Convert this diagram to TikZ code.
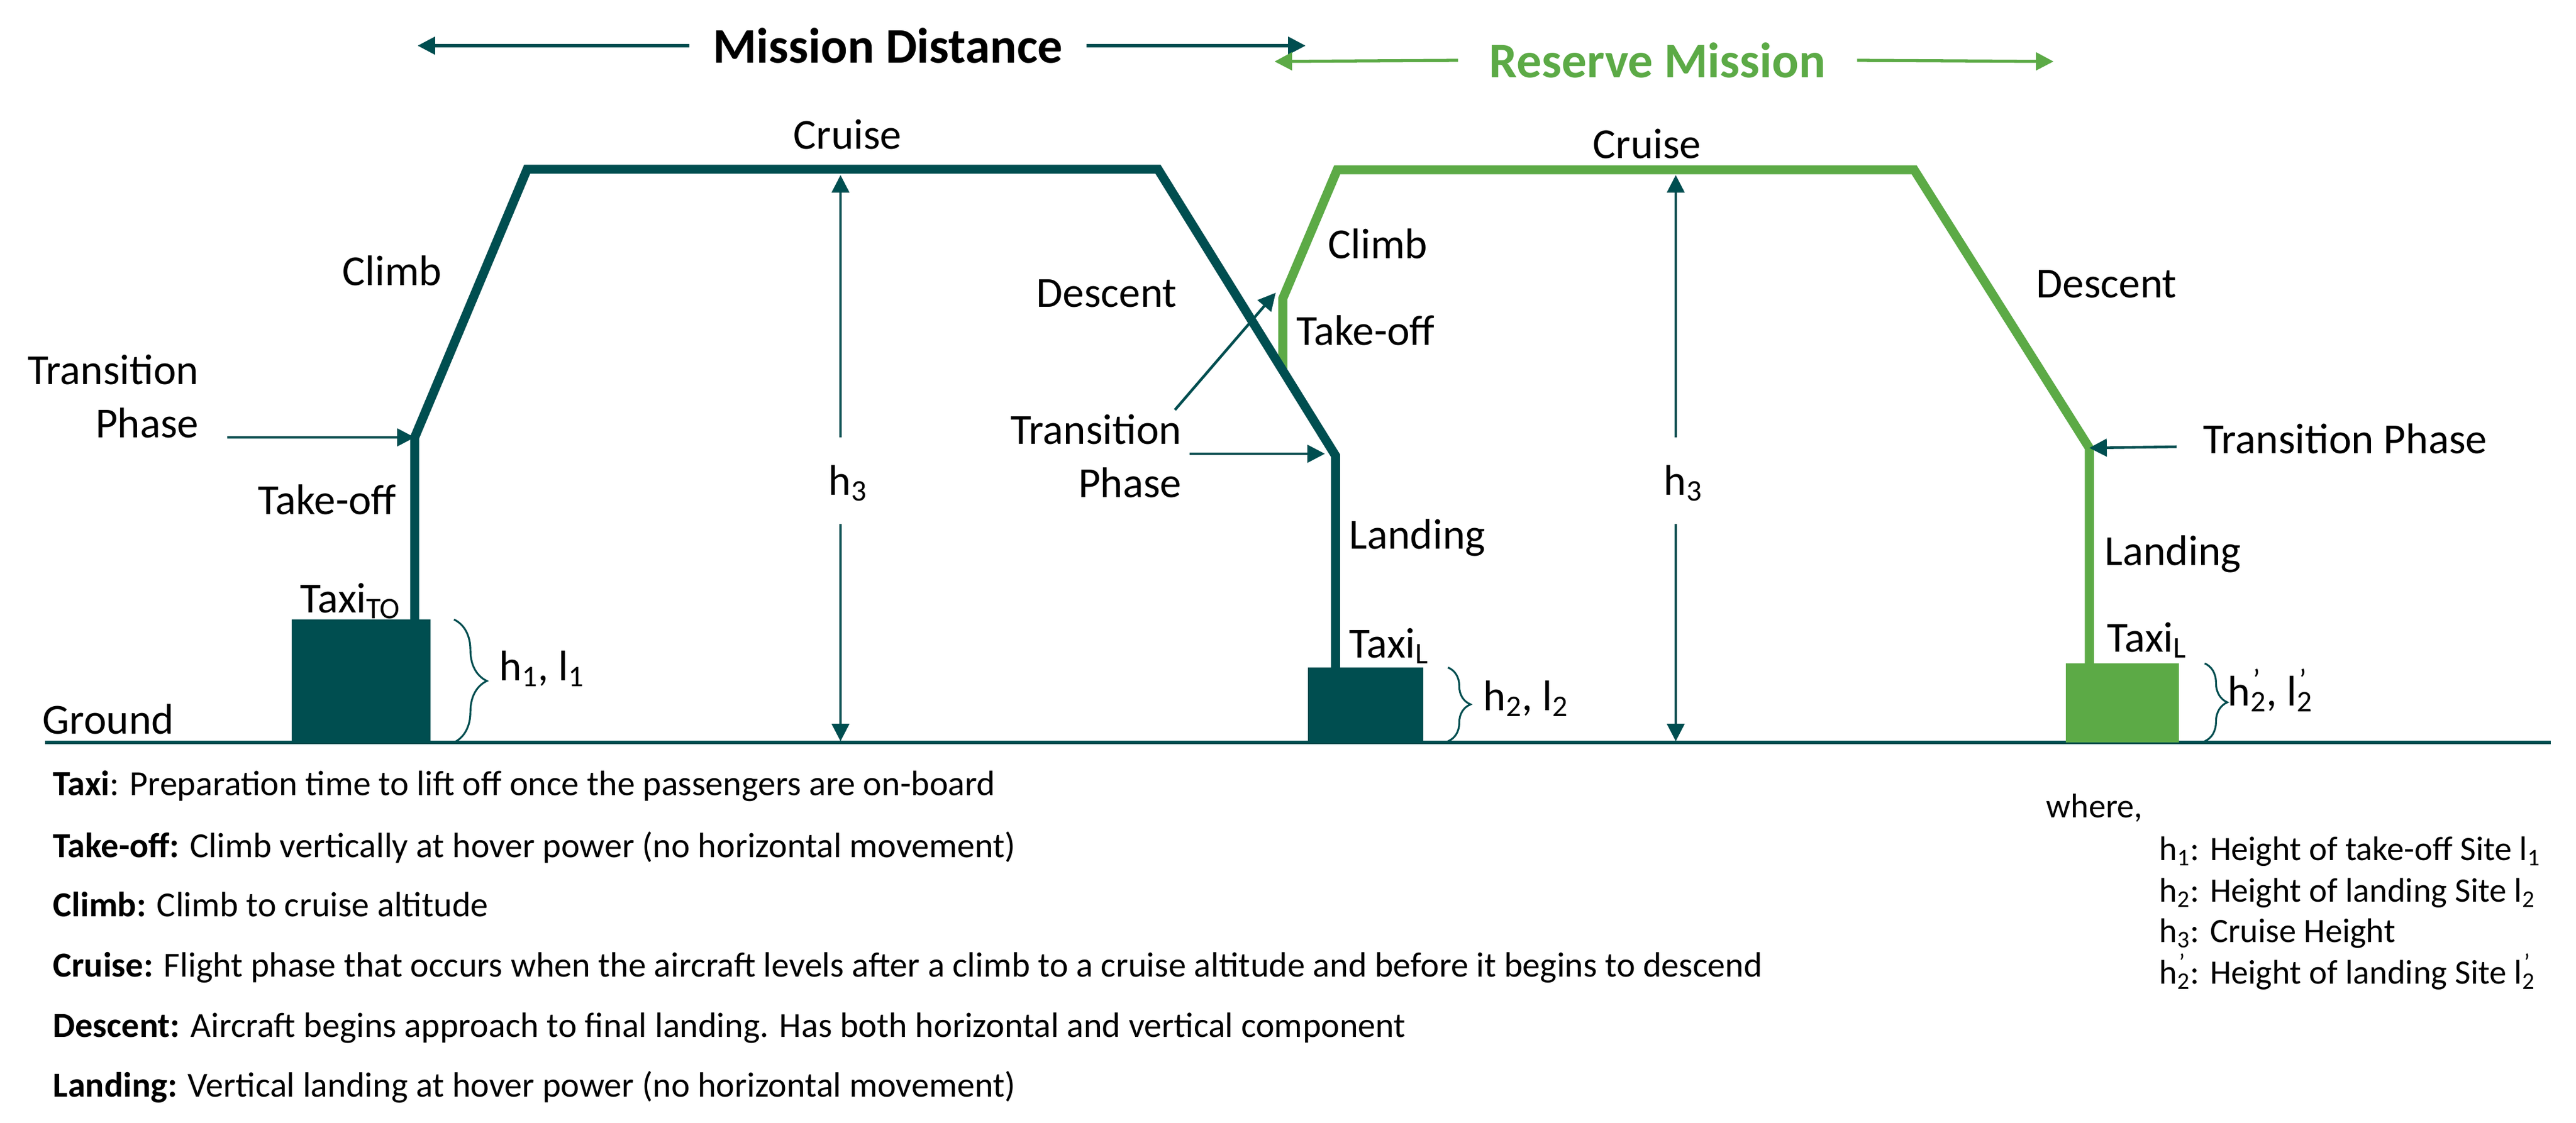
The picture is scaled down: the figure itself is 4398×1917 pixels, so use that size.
\documentclass[tikz,border=0pt]{standalone}
\usepackage{fontspec}
\setmainfont{Carlito}
\usetikzlibrary{arrows.meta,decorations.pathreplacing}
\definecolor{tealdk}{RGB}{0,78,80}
\definecolor{greenres}{RGB}{92,170,70}
\newcommand\titlefont{\fontsize{24.2}{29}\selectfont\bfseries}
\newcommand\labfont{\fontsize{20.8}{26}\selectfont}
\newcommand\descfont{\fontsize{17.1}{20}\selectfont}
\newcommand\legfont{\fontsize{16.6}{20}\selectfont}
\newcommand\hprime[1]{#1\rlap{\textsuperscript{\kern0.08em’}}\textsubscript{2}}
\tikzset{
  lab/.style={inner sep=0pt, font=\labfont, text=black},
  desc/.style={inner sep=0pt, font=\descfont, text=black, anchor=base west},
  leg/.style={inner sep=0pt, font=\legfont, text=black, anchor=base west},
  flight/.style={line width=4.4pt},
  tipped/.style={-{Triangle[length=8.5pt,width=8.5pt]}},
  topline/.style={tipped, line width=1.5pt},
  dimline/.style={tipped, tealdk, line width=1pt},
  transline/.style={tipped, tealdk, line width=1.3pt},
  bracedec/.style={tealdk, line width=0.9pt, decorate, decoration={brace, amplitude=#1}},
  titlenode/.style={inner ysep=0pt, font=\titlefont}
}
\begin{document}
\begin{tikzpicture}[x=0.01cm,y=-0.01cm]
\useasboundingbox (0,0) rectangle (4398,1917);

% ground line
\coordinate (gL) at (77,1268);
\coordinate (gR) at (4355,1268);
\draw[tealdk, line width=1.7pt] (gL) -- (gR);

% taxi boxes
\fill[tealdk] (498,1058) rectangle (735,1268);
\fill[tealdk] (2233,1140) rectangle (2430,1268);
\fill[greenres] (3527,1133) rectangle (3720,1268);

% reserve mission profile (green)
\coordinate (g1) at (3567,1133);
\coordinate (g2) at (3567,765);
\coordinate (g3) at (3268,290);
\coordinate (g4) at (2283,290);
\coordinate (g5) at (2190,510);
\coordinate (g6) at (2190,633);
\draw[flight, greenres] (g1) -- (g2) -- (g3) -- (g4) -- (g5) -- (g6);

% main mission profile (dark teal)
\coordinate (a1) at (708,1058);
\coordinate (a2) at (708,747);
\coordinate (a3) at (900,289);
\coordinate (a4) at (1977,289);
\coordinate (a5) at (2280,778);
\coordinate (a6) at (2280,1140);
\draw[flight, tealdk] (a1) -- (a2) -- (a3) -- (a4) -- (a5) -- (a6);

% titles with arrows
\node[titlenode, inner xsep=11.4pt, text=black] (md) at (1516,78) {Mission Distance};
\coordinate (mdL) at (713,78);
\coordinate (mdR) at (2229,78);
\draw[topline, tealdk] (md.west) -- (mdL);
\draw[topline, tealdk] (md.east) -- (mdR);

\node[titlenode, inner xsep=15pt, text=greenres] (rm) at (2830,103) {Reserve Mission};
\coordinate (rmL) at (2176,105);
\coordinate (rmR) at (3506,105);
\draw[topline, greenres] (rm.west) -- (rmL);
\draw[topline, greenres] (rm.east) -- (rmR);

% h3 dimension arrows
\node[lab, anchor=base west] (h3a) at (1414,845) {h\textsubscript{3}};
\coordinate (h3aT) at (1435,747);
\coordinate (h3aC) at (1435,299);
\coordinate (h3aB) at (1435,895);
\coordinate (h3aG) at (1435,1266);
\draw[dimline] (h3aT) -- (h3aC);
\draw[dimline] (h3aB) -- (h3aG);

\node[lab, anchor=base west] (h3b) at (2840,845) {h\textsubscript{3}};
\coordinate (h3bT) at (2861,747);
\coordinate (h3bC) at (2861,299);
\coordinate (h3bB) at (2861,895);
\coordinate (h3bG) at (2861,1266);
\draw[dimline] (h3bT) -- (h3bC);
\draw[dimline] (h3bB) -- (h3bG);

% transition phase labels and arrows
\node[lab, align=right, anchor=north east] (tp1) at (340,605) {Transition\\Phase};
\coordinate (tp1s) at (388,747);
\draw[transline] (tp1s) -- (a2);

\node[lab, align=right, anchor=north east] (tp2) at (2018,707) {Transition\\Phase};
\coordinate (tp2s) at (2031,775);
\coordinate (tp2e) at (2262,775);
\draw[transline] (tp2s) -- (tp2e);
\coordinate (tp2d) at (2006,700);
\coordinate (tp2u) at (2178,500);
\draw[transline] (tp2d) -- (tp2u);

\node[lab, anchor=base west] (tp3) at (3761,774) {Transition Phase};
\coordinate (tp3s) at (3716,763);
\draw[transline] (tp3s) -- (g2);

% braces
\draw[bracedec=16pt] (775,1058) -- (775,1268);
\draw[bracedec=11pt] (2472,1140) -- (2472,1266);
\draw[bracedec=11pt] (3764,1133) -- (3764,1266);

% phase labels
\node[lab, anchor=base west] (cr1) at (1354,254) {Cruise};
\node[lab, anchor=base west] (cl1) at (584,487) {Climb};
\node[lab, anchor=base west] (to1) at (440,878) {Take-off};
\node[lab, anchor=base west] (tx1) at (512,1046) {Taxi\textsubscript{TO}};
\node[lab, anchor=base west] (hl1) at (852,1162) {h\textsubscript{1}, l\textsubscript{1}};
\node[lab, anchor=base west] (gr) at (72,1253) {Ground};

\node[lab, anchor=base west] (de1) at (1769,524) {Descent};
\node[lab, anchor=base west] (cl2) at (2267,441) {Climb};
\node[lab, anchor=base west] (to2) at (2213,589) {Take-off};
\node[lab, anchor=base west] (la1) at (2303,937) {Landing};
\node[lab, anchor=base west] (tx2) at (2303,1123) {Taxi\textsubscript{L}};
\node[lab, anchor=base west] (hl2) at (2532,1213) {h\textsubscript{2}, l\textsubscript{2}};

\node[lab, anchor=base west] (cr2) at (2719,270) {Cruise};
\node[lab, anchor=base west] (de2) at (3476,508) {Descent};
\node[lab, anchor=base west] (la2) at (3593,965) {Landing};
\node[lab, anchor=base west] (tx3) at (3597,1113) {Taxi\textsubscript{L}};
\node[lab, anchor=base west] (hl3) at (3803,1205) {\hprime{h}, \hprime{l}};

% descriptions
\node[desc] (d1) at (90,1358) {\textbf{Taxi}: Preparation time to lift off once the passengers are on-board};
\node[desc] (d2) at (90,1464) {\textbf{Take-off:} Climb vertically at hover power (no horizontal movement)};
\node[desc] (d3) at (90,1565) {\textbf{Climb:} Climb to cruise altitude};
\node[desc] (d4) at (90,1668) {\textbf{Cruise:} Flight phase that occurs when the aircraft levels after a climb to a cruise altitude and before it begins to descend};
\node[desc] (d5) at (90,1771) {\textbf{Descent:} Aircraft begins approach to final landing. Has both horizontal and vertical component};
\node[desc] (d6) at (90,1873) {\textbf{Landing:} Vertical landing at hover power (no horizontal movement)};

% legend
\node[leg] (wh) at (3493,1396) {where,};
\node[leg] (lg1) at (3686,1469) {h\textsubscript{1}: Height of take-off Site l\textsubscript{1}};
\node[leg] (lg2) at (3686,1540) {h\textsubscript{2}: Height of landing Site l\textsubscript{2}};
\node[leg] (lg3) at (3686,1609) {h\textsubscript{3}: Cruise Height};
\node[leg] (lg4) at (3686,1680) {\hprime{h}: Height of landing Site \hprime{l}};
\end{tikzpicture}
\end{document}
